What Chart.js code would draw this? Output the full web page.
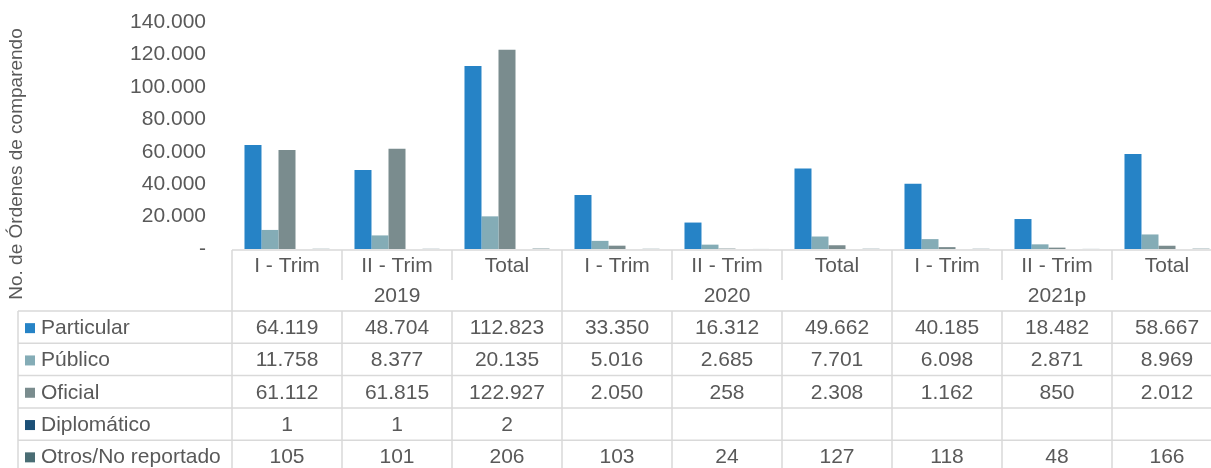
<!DOCTYPE html>
<html>
<head>
<meta charset="utf-8">
<script src="https://cdn.jsdelivr.net/npm/chart.js@4.4.1/dist/chart.umd.min.js"></script>
<style>
  html, body { margin: 0; padding: 0; background: #ffffff; overflow: hidden; }
  #wrap { width: 1230px; height: 468px; }
</style>
</head>
<body>
<div id="wrap"><canvas id="c" width="1230" height="468"></canvas></div>
<script>
// ---- Data ----
const periods = ['I - Trim', 'II - Trim', 'Total', 'I - Trim', 'II - Trim', 'Total', 'I - Trim', 'II - Trim', 'Total'];
const years = ['2019', '2020', '2021p'];
const seriesNames = ['Particular', 'Público', 'Oficial', 'Diplomático', 'Otros/No reportado'];
const particular = [64119, 48704, 112823, 33350, 16312, 49662, 40185, 18482, 58667];
const publico = [11758, 8377, 20135, 5016, 2685, 7701, 6098, 2871, 8969];
const oficial = [61112, 61815, 122927, 2050, 258, 2308, 1162, 850, 2012];
const diplomatico = [1, 1, 2, null, null, null, null, null, null];
const otros = [105, 101, 206, 103, 24, 127, 118, 48, 166];
const yTicks = [0, 20000, 40000, 60000, 80000, 100000, 120000, 140000];
const yTitle = 'No. de Órdenes de comparendo';

const colors = ['#2683C6', '#84ACB6', '#7A8C8E', '#1C5077', '#4A6D74'];
const seriesData = [particular, publico, oficial, diplomatico, otros];

const FONT = '"Liberation Sans", Arial, sans-serif';
const TXT = '#595959';
const GRID = '#D9D9D9';

function fmt(v) {
  if (v === null || v === undefined) return '';
  return String(v).replace(/\B(?=(\d{3})+(?!\d))/g, '.');
}

const tablePlugin = {
  id: 'tablePlugin',
  afterDraw(chart) {
    const ctx = chart.ctx;
    const x = chart.scales.x;
    const ca = chart.chartArea;
    const n = periods.length;
    const colW = (ca.right - ca.left) / n;
    const left = ca.left;
    const right = ca.right;
    const top = ca.bottom + 1;
    const hdr1 = top + 30;
    const hdr2 = top + 61;
    const rowH = 32.3;
    const legendLeft = 18;
    const bottom = hdr2 + rowH * seriesNames.length;

    ctx.save();
    ctx.strokeStyle = GRID;
    ctx.lineWidth = 1.5;

    ctx.beginPath();
    ctx.moveTo(left, top); ctx.lineTo(right, top);
    ctx.stroke();

    for (let i = 0; i <= n; i++) {
      const xx = left + i * colW;
      ctx.beginPath();
      ctx.moveTo(xx, top); ctx.lineTo(xx, hdr1);
      ctx.stroke();
    }
    for (let g = 0; g <= years.length; g++) {
      const xx = left + g * 3 * colW;
      ctx.beginPath();
      ctx.moveTo(xx, hdr1); ctx.lineTo(xx, hdr2);
      ctx.stroke();
    }
    for (let r = 0; r <= seriesNames.length; r++) {
      const yy = hdr2 + r * rowH;
      ctx.beginPath();
      ctx.moveTo(legendLeft, yy); ctx.lineTo(right, yy);
      ctx.stroke();
    }
    const vx = [legendLeft];
    for (let i = 0; i <= n; i++) vx.push(left + i * colW);
    vx.forEach(xx => {
      ctx.beginPath();
      ctx.moveTo(xx, hdr2); ctx.lineTo(xx, bottom);
      ctx.stroke();
    });

    ctx.fillStyle = TXT;
    ctx.font = '21px ' + FONT;
    ctx.textAlign = 'center';
    ctx.textBaseline = 'middle';
    for (let i = 0; i < n; i++) {
      const cx = x.getPixelForValue(i);
      ctx.fillText(periods[i], cx, (top + hdr1) / 2 + 1);
    }
    for (let g = 0; g < years.length; g++) {
      const cx = left + (g * 3 + 1.5) * colW;
      ctx.fillText(years[g], cx, (hdr1 + hdr2) / 2 + 1);
    }
    for (let r = 0; r < seriesNames.length; r++) {
      const cy = hdr2 + (r + 0.5) * rowH + 1;
      ctx.fillStyle = colors[r];
      ctx.fillRect(25, cy - 5, 10, 10);
      ctx.fillStyle = TXT;
      ctx.textAlign = 'left';
      ctx.fillText(seriesNames[r], 41, cy);
      ctx.textAlign = 'center';
      const arr = seriesData[r];
      for (let i = 0; i < n; i++) {
        ctx.fillText(fmt(arr[i]), x.getPixelForValue(i), cy);
      }
    }

    ctx.save();
    ctx.translate(17, 164);
    ctx.rotate(-Math.PI / 2);
    ctx.font = '19px ' + FONT;
    ctx.fillStyle = TXT;
    ctx.textAlign = 'center';
    ctx.textBaseline = 'middle';
    ctx.fillText(yTitle, 0, 0);
    ctx.restore();

    ctx.restore();
  }
};

new Chart(document.getElementById('c'), {
  type: 'bar',
  data: {
    labels: periods,
    datasets: seriesNames.map((name, i) => ({
      label: name,
      data: seriesData[i],
      backgroundColor: colors[i],
      borderWidth: 0,
      barPercentage: 1,
      categoryPercentage: 0.773
    }))
  },
  options: {
    responsive: false,
    animation: false,
    layout: { padding: { left: 0, top: 22, right: 8, bottom: 219 } },
    plugins: { legend: { display: false }, tooltip: { enabled: false } },
    scales: {
      x: { display: false },
      y: {
        min: 0, max: 140000,
        afterFit(s) { s.width = 232; s.paddingTop = 0; s.paddingBottom = 0; },
        afterBuildTicks(s) { s.ticks = yTicks.map(v => ({ value: v })); },
        grid: { display: false, drawTicks: false },
        border: { display: false },
        ticks: {
          padding: 26,
          color: TXT,
          font: { family: FONT, size: 21 },
          callback: v => v === 0 ? '-' : fmt(v)
        }
      }
    }
  },
  plugins: [tablePlugin]
});
</script>
</body>
</html>
